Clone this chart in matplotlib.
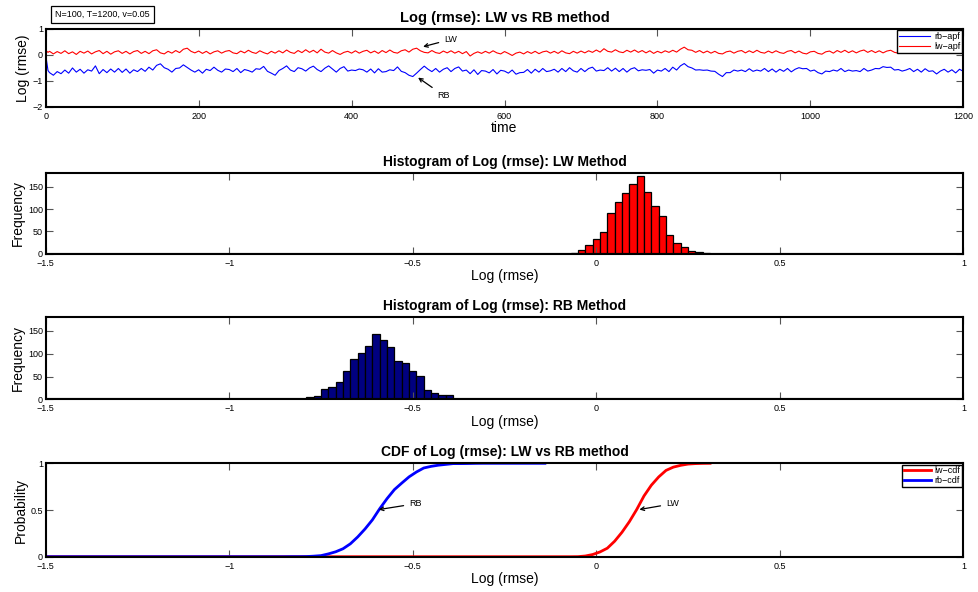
import numpy as np
import matplotlib.pyplot as plt

plt.rcParams['font.family'] = ['Liberation Sans', 'DejaVu Sans']

# ---- time series: log(rmse) per time step (read every 5 steps, plus first steps)
t_start = [0, 1, 3]
rb_start = [0.15, -0.2, -0.6]
lw_start = [-1.6, 0.15, 0.1]

rb_apf = [
    -0.68, -0.78, -0.64, -0.72, -0.58, -0.70, -0.50, -0.66, -0.55, -0.70, -0.57, -0.62, -0.42, -0.72, -0.56, -0.68, -0.54, -0.66, -0.52, -0.67,
    -0.54, -0.70, -0.57, -0.64, -0.52, -0.63, -0.47, -0.58, -0.40, -0.34, -0.49, -0.55, -0.66, -0.52, -0.50, -0.38, -0.48, -0.58, -0.66, -0.57,
    -0.70, -0.55, -0.60, -0.47, -0.59, -0.66, -0.54, -0.56, -0.64, -0.52, -0.68, -0.56, -0.60, -0.66, -0.53, -0.55, -0.44, -0.63, -0.70, -0.78,
    -0.60, -0.52, -0.42, -0.58, -0.64, -0.49, -0.53, -0.62, -0.50, -0.43, -0.56, -0.64, -0.51, -0.42, -0.54, -0.66, -0.52, -0.45, -0.62, -0.58,
    -0.60, -0.54, -0.57, -0.66, -0.54, -0.69, -0.53, -0.66, -0.64, -0.57, -0.60, -0.46, -0.63, -0.68, -0.78, -0.83, -0.70, -0.56, -0.43, -0.55,
    -0.64, -0.52, -0.66, -0.55, -0.49, -0.64, -0.52, -0.46, -0.62, -0.58, -0.72, -0.57, -0.75, -0.60, -0.62, -0.69, -0.56, -0.73, -0.59, -0.62,
    -0.70, -0.58, -0.74, -0.68, -0.67, -0.56, -0.70, -0.55, -0.66, -0.52, -0.64, -0.61, -0.55, -0.66, -0.52, -0.64, -0.49, -0.61, -0.66, -0.52,
    -0.64, -0.52, -0.47, -0.62, -0.58, -0.60, -0.49, -0.62, -0.51, -0.64, -0.52, -0.66, -0.54, -0.49, -0.61, -0.57, -0.59, -0.56, -0.70, -0.58,
    -0.62, -0.52, -0.64, -0.47, -0.58, -0.42, -0.33, -0.45, -0.50, -0.58, -0.57, -0.59, -0.58, -0.62, -0.63, -0.74, -0.83, -0.68, -0.68, -0.58,
    -0.62, -0.58, -0.64, -0.53, -0.63, -0.58, -0.62, -0.52, -0.64, -0.54, -0.66, -0.55, -0.63, -0.52, -0.65, -0.55, -0.49, -0.53, -0.52, -0.62,
    -0.58, -0.68, -0.73, -0.62, -0.64, -0.58, -0.62, -0.52, -0.64, -0.58, -0.62, -0.60, -0.64, -0.52, -0.62, -0.58, -0.52, -0.53, -0.45, -0.48,
    -0.47, -0.58, -0.56, -0.62, -0.58, -0.52, -0.64, -0.55, -0.66, -0.53, -0.63, -0.61, -0.73, -0.62, -0.55, -0.66, -0.57, -0.69, -0.55, -0.63,
]

lw_apf = [
    0.14, 0.04, 0.13, 0.06, 0.16, 0.05, 0.12, 0.02, 0.14, 0.07, 0.15, 0.04, 0.12, 0.17, 0.05, 0.14, 0.03, 0.12, 0.16, 0.06,
    0.14, 0.04, 0.13, 0.17, 0.06, 0.14, 0.05, 0.16, 0.20, 0.08, 0.04, 0.14, 0.07, 0.17, 0.09, 0.22, 0.26, 0.14, 0.08, 0.15,
    0.06, 0.14, 0.04, 0.12, 0.16, 0.07, 0.14, 0.17, 0.08, 0.05, 0.15, 0.08, 0.18, 0.10, 0.06, 0.16, 0.09, 0.04, 0.14, 0.07,
    0.16, 0.08, 0.19, 0.10, 0.06, 0.17, 0.09, 0.20, 0.10, 0.18, 0.08, 0.22, 0.11, 0.07, 0.17, 0.08, 0.02, 0.10, 0.14, 0.07,
    0.16, 0.07, 0.14, 0.18, 0.08, 0.15, 0.06, 0.17, 0.09, 0.19, 0.10, 0.07, 0.16, 0.20, 0.11, 0.22, 0.26, 0.16, 0.10, 0.08,
    0.17, 0.09, 0.06, 0.15, 0.08, 0.16, 0.07, 0.14, 0.05, 0.13, -0.04, 0.06, 0.12, 0.06, 0.14, 0.07, 0.16, 0.08, 0.04, 0.13,
    0.06, -0.02, 0.07, 0.11, 0.04, 0.13, 0.06, 0.14, 0.05, 0.12, 0.15, 0.07, 0.14, 0.06, 0.16, 0.08, 0.05, 0.14, 0.07, 0.15,
    0.08, 0.16, 0.10, 0.19, 0.11, 0.24, 0.14, 0.11, 0.20, 0.12, 0.09, 0.18, 0.11, 0.19, 0.10, 0.17, 0.08, 0.16, 0.06, 0.14,
    0.08, 0.16, 0.10, 0.18, 0.11, 0.22, 0.30, 0.20, 0.18, 0.10, 0.17, 0.08, 0.15, 0.07, 0.14, 0.06, 0.04, 0.12, 0.15, 0.07,
    0.14, 0.17, 0.08, 0.16, 0.09, 0.18, 0.10, 0.07, 0.15, 0.08, 0.16, 0.09, 0.06, 0.14, 0.17, 0.08, 0.15, 0.07, 0.04, 0.12,
    0.14, 0.06, 0.03, 0.12, 0.15, 0.07, 0.17, 0.10, 0.18, 0.09, 0.16, 0.08, 0.15, 0.19, 0.10, 0.17, 0.09, 0.16, 0.08, 0.15,
    0.18, 0.10, 0.07, 0.15, 0.08, 0.16, 0.06, 0.14, 0.08, 0.17, 0.09, 0.07, 0.15, 0.08, 0.17, 0.10, 0.07, 0.16, 0.09, 0.15,
]

# ---- histograms (bin centres, width 0.02)
lw_bins = [-0.06, -0.04, -0.02, 0.00, 0.02, 0.04, 0.06, 0.08, 0.10, 0.12,
           0.14, 0.16, 0.18, 0.20, 0.22, 0.24, 0.26, 0.28, 0.30]
lw_counts = [1, 8, 19, 33, 48, 90, 115, 135, 156, 175,
             138, 106, 84, 42, 23, 16, 6, 3, 1]

rb_bins = [-0.84, -0.82, -0.80, -0.78, -0.76, -0.74, -0.72, -0.70, -0.68, -0.66,
           -0.64, -0.62, -0.60, -0.58, -0.56, -0.54, -0.52, -0.50, -0.48, -0.46,
           -0.44, -0.42, -0.40, -0.38, -0.36, -0.34, -0.32]
rb_counts = [1, 0, 1, 5, 7, 22, 27, 39, 63, 88,
             102, 116, 143, 129, 115, 83, 80, 62, 51, 21,
             15, 10, 10, 0, 1, 2, 1]

lw_span = (-1.5, 0.31)
rb_span = (-1.5, -0.14)
bin_w = 0.02

t = np.concatenate([t_start, np.arange(5, 1201, 5)])
rb = np.concatenate([rb_start, rb_apf])
lw = np.concatenate([lw_start, lw_apf])


def matlab_axes(ax):
    for s in ax.spines.values():
        s.set_linewidth(1.5)
    ax.tick_params(direction='in', top=True, right=True, labelsize=6.5,
                   length=5, width=0.8, color='#555555')
    ax.tick_params(axis='x', pad=3.5)
    ax.tick_params(axis='y', pad=2)


fig = plt.figure(figsize=(9.79, 5.92), dpi=100)
L, W = 0.0467, 0.9373

# top: time series
ax1 = fig.add_axes([L, 0.8193, W, 0.1318])
ax1.plot(t, rb, color='blue', lw=0.8, label='rb\u2212apf')
ax1.plot(t, lw, color='red', lw=0.8, label='lw\u2212apf')
ax1.set_xlim(0, 1200)
ax1.set_ylim(-2, 1)
ax1.set_yticks([-2, -1, 0, 1])
ax1.set_yticklabels(['\u22122', '\u22121', '0', '1'])
ax1.set_xticks(range(0, 1201, 200))
ax1.set_xlabel('time', fontsize=10, labelpad=0)
ax1.set_ylabel('Log (rmse)', fontsize=10, labelpad=2)
ax1.set_title('Log (rmse): LW vs RB method', fontsize=10.5, fontweight='bold', pad=5)
ax1.annotate('LW', xy=(490, 0.29), xytext=(521, 0.5), fontsize=6.5,
             arrowprops=dict(arrowstyle='->', lw=0.9, color='black'))
ax1.annotate('RB', xy=(484, -0.81), xytext=(512, -1.65), fontsize=6.5,
             arrowprops=dict(arrowstyle='->', lw=0.9, color='black'))
leg = ax1.legend(loc='upper right', fontsize=6.5, handlelength=3.5, borderaxespad=0.15,
                 fancybox=False, edgecolor='black', framealpha=1, borderpad=0.2,
                 labelspacing=0.1, handletextpad=0.4)
leg.get_frame().set_linewidth(1.0)
matlab_axes(ax1)
fig.text(0.056, 0.976, 'N=100, T=1200, v=0.05', fontsize=6.5, va='center',
         bbox=dict(facecolor='white', edgecolor='black', boxstyle='square,pad=0.45', lw=0.9))

xt = [-1.5, -1, -0.5, 0, 0.5, 1]
xtl = ['\u22121.5', '\u22121', '\u22120.5', '0', '0.5', '1']

# LW histogram
ax2 = fig.add_axes([L, 0.5715, W, 0.1358])
ax2.bar(lw_bins, lw_counts, width=bin_w, color='red', edgecolor='black', linewidth=0.9)
ax2.axhline(0, color='black', lw=1.5)
ax2.set_xlim(-1.5, 1)
ax2.set_ylim(0, 180)
ax2.set_yticks([0, 50, 100, 150])
ax2.set_xticks(xt)
ax2.set_xticklabels(xtl)
ax2.set_xlabel('Log (rmse)', fontsize=10, labelpad=1)
ax2.set_ylabel('Frequency', fontsize=10, labelpad=2)
ax2.set_title('Histogram of Log (rmse): LW Method', fontsize=10, fontweight='bold', pad=5)
matlab_axes(ax2)

# RB histogram
ax3 = fig.add_axes([L, 0.3252, W, 0.1394])
ax3.bar(rb_bins, rb_counts, width=bin_w, color='#000080', edgecolor='black', linewidth=0.9)
ax3.axhline(0, color='black', lw=1.5)
ax3.set_xlim(-1.5, 1)
ax3.set_ylim(0, 180)
ax3.set_yticks([0, 50, 100, 150])
ax3.set_xticks(xt)
ax3.set_xticklabels(xtl)
ax3.set_xlabel('Log (rmse)', fontsize=10, labelpad=1)
ax3.set_ylabel('Frequency', fontsize=10, labelpad=2)
ax3.set_title('Histogram of Log (rmse): RB Method', fontsize=10, fontweight='bold', pad=5)
matlab_axes(ax3)


def cdf_from_hist(bins, counts, span):
    right = np.array(bins) + bin_w / 2
    p = np.cumsum(counts) / np.sum(counts)
    x = np.concatenate([[span[0], bins[0] - bin_w / 2], right, [span[1]]])
    y = np.concatenate([[0, 0], p, [1]])
    return x, y


# CDF
ax4 = fig.add_axes([L, 0.0596, W, 0.1578])
x_lw, y_lw = cdf_from_hist(lw_bins, lw_counts, lw_span)
x_rb, y_rb = cdf_from_hist(rb_bins, rb_counts, rb_span)
ax4.plot(x_lw, y_lw, color='red', lw=2, label='lw\u2212cdf')
ax4.plot(x_rb, y_rb, color='blue', lw=2, label='rb\u2212cdf')
ax4.set_xlim(-1.5, 1)
ax4.set_ylim(0, 1)
ax4.set_yticks([0, 0.5, 1])
ax4.set_yticklabels(['0', '0.5', '1'])
ax4.set_xticks(xt)
ax4.set_xticklabels(xtl)
ax4.set_xlabel('Log (rmse)', fontsize=10, labelpad=1)
ax4.set_ylabel('Probability', fontsize=10, labelpad=2)
ax4.set_title('CDF of Log (rmse): LW vs RB method', fontsize=10, fontweight='bold', pad=5)
ax4.annotate('RB', xy=(-0.60, 0.5), xytext=(-0.51, 0.54), fontsize=6.5,
             arrowprops=dict(arrowstyle='->', lw=0.9, color='black'))
ax4.annotate('LW', xy=(0.11, 0.5), xytext=(0.19, 0.54), fontsize=6.5,
             arrowprops=dict(arrowstyle='->', lw=0.9, color='black'))
leg4 = ax4.legend(loc='upper right', fontsize=6.5, handlelength=3, borderaxespad=0.15,
                  fancybox=False, edgecolor='black', framealpha=1, borderpad=0.2,
                  labelspacing=0.1, handletextpad=0.4)
leg4.get_frame().set_linewidth(1.0)
matlab_axes(ax4)

fig.savefig('out.png', dpi=100)
